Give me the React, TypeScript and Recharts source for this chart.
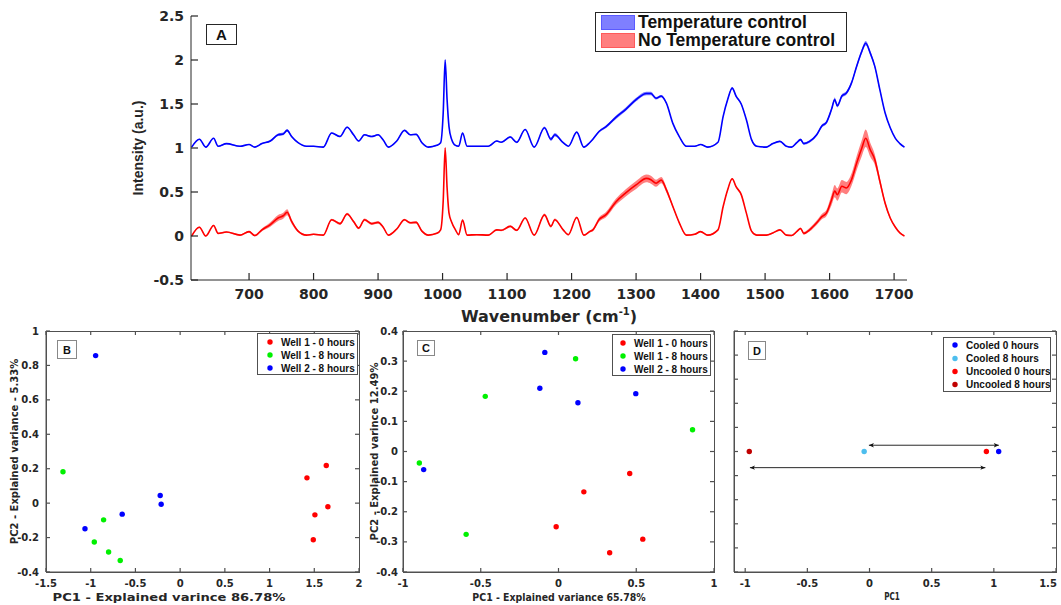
import React from 'react';
import {
  ComposedChart,
  Area,
  Line,
  XAxis,
  YAxis,
  ScatterChart,
  Scatter,
  ReferenceLine,
} from 'recharts';

// ---- Panel A: mean Raman spectra (+/- band) ----
const WAVENUMBER = [
  611, 623, 633, 645, 652, 665, 686, 700, 709, 720,
  733, 745, 753, 759, 766, 776, 789, 800, 815, 828,
  841, 852, 862, 870, 879, 890, 900, 908, 916, 929,
  941, 950, 959, 968, 978, 991, 997, 1001, 1004, 1007,
  1010, 1014, 1020, 1025, 1031, 1038, 1053, 1071, 1084, 1091,
  1105, 1115, 1128, 1142, 1158, 1168, 1174, 1187, 1195, 1208,
  1219, 1228, 1233, 1243, 1253, 1269, 1284, 1300, 1316, 1323,
  1331, 1339, 1347, 1357, 1367, 1378, 1391, 1400, 1411, 1427,
  1435, 1442, 1449, 1455, 1463, 1471, 1479, 1487, 1502, 1512,
  1523, 1533, 1541, 1549, 1555, 1560, 1569, 1580, 1588, 1595,
  1603, 1608, 1612, 1619, 1626, 1634, 1642, 1650, 1656, 1663,
  1670, 1678, 1686, 1694, 1702, 1709, 1716,
];

const TEMP_CONTROL = [
  1.01, 1.10, 1.01, 1.11, 1.02, 1.05, 1.02, 1.04, 1.01, 1.05,
  1.08, 1.15, 1.16, 1.20, 1.13, 1.06, 1.02, 1.02, 1.01, 1.17,
  1.13, 1.235, 1.15, 1.08, 1.15, 1.13, 1.15, 1.09, 1.01, 1.08,
  1.20, 1.15, 1.155, 1.06, 1.01, 1.03, 1.06, 1.40, 2.00, 1.55,
  1.24, 1.10, 1.03, 1.02, 1.17, 1.02, 1.02, 1.02, 1.08, 1.065,
  1.125, 1.065, 1.21, 1.01, 1.23, 1.10, 1.15, 1.06, 1.02, 1.18,
  1.01, 1.06, 1.10, 1.19, 1.24, 1.35, 1.44, 1.55, 1.62, 1.62,
  1.565, 1.59, 1.51, 1.28, 1.13, 1.02, 1.02, 1.04, 1.01, 1.065,
  1.36, 1.55, 1.68, 1.59, 1.50, 1.32, 1.095, 1.02, 1.01, 1.05,
  1.075, 1.02, 1.01, 1.06, 1.095, 1.05, 1.075, 1.15, 1.25, 1.29,
  1.44, 1.55, 1.48, 1.59, 1.625, 1.74, 1.93, 2.10, 2.19, 2.08,
  1.93, 1.66, 1.40, 1.23, 1.11, 1.05, 1.01,
];

const TEMP_CONTROL_SD = [
  0.006, 0.006, 0.006, 0.006, 0.006, 0.006, 0.006, 0.006, 0.006, 0.006,
  0.01, 0.015, 0.015, 0.015, 0.01, 0.006, 0.006, 0.006, 0.006, 0.008,
  0.008, 0.008, 0.008, 0.008, 0.008, 0.008, 0.008, 0.008, 0.006, 0.008,
  0.008, 0.008, 0.008, 0.008, 0.006, 0.006, 0.006, 0.008, 0.008, 0.008,
  0.008, 0.008, 0.006, 0.006, 0.008, 0.006, 0.006, 0.006, 0.008, 0.008,
  0.01, 0.01, 0.008, 0.006, 0.015, 0.02, 0.02, 0.01, 0.006, 0.008,
  0.006, 0.008, 0.01, 0.012, 0.015, 0.02, 0.02, 0.02, 0.02, 0.02,
  0.015, 0.012, 0.01, 0.008, 0.006, 0.006, 0.006, 0.006, 0.006, 0.008,
  0.01, 0.012, 0.012, 0.012, 0.01, 0.008, 0.006, 0.006, 0.006, 0.006,
  0.006, 0.006, 0.006, 0.012, 0.012, 0.012, 0.015, 0.015, 0.018, 0.018,
  0.02, 0.025, 0.02, 0.02, 0.02, 0.02, 0.022, 0.025, 0.025, 0.025,
  0.02, 0.015, 0.01, 0.008, 0.006, 0.006, 0.006,
];

const NO_TEMP_CONTROL = [
  0.00, 0.10, 0.00, 0.12, 0.03, 0.045, 0.01, 0.05, 0.005, 0.07,
  0.13, 0.205, 0.23, 0.27, 0.165, 0.055, 0.01, 0.02, 0.01, 0.185,
  0.14, 0.25, 0.165, 0.09, 0.185, 0.14, 0.155, 0.10, 0.01, 0.08,
  0.185, 0.15, 0.155, 0.055, 0.01, 0.03, 0.07, 0.40, 1.00, 0.55,
  0.26, 0.16, 0.07, 0.015, 0.18, 0.01, 0.015, 0.01, 0.07, 0.065,
  0.11, 0.065, 0.205, 0.01, 0.24, 0.11, 0.185, 0.07, 0.015, 0.21,
  0.01, 0.05, 0.07, 0.19, 0.24, 0.39, 0.49, 0.58, 0.655, 0.64,
  0.60, 0.635, 0.525, 0.335, 0.15, 0.01, 0.02, 0.05, 0.01, 0.07,
  0.335, 0.525, 0.65, 0.56, 0.47, 0.26, 0.055, 0.01, 0.01, 0.035,
  0.07, 0.01, 0.005, 0.05, 0.085, 0.03, 0.07, 0.15, 0.22, 0.26,
  0.41, 0.51, 0.47, 0.565, 0.545, 0.64, 0.83, 1.00, 1.11, 0.98,
  0.87, 0.62, 0.375, 0.205, 0.10, 0.035, 0.00,
];

const NO_TEMP_CONTROL_SD = [
  0.008, 0.008, 0.008, 0.008, 0.008, 0.008, 0.008, 0.01, 0.01, 0.015,
  0.025, 0.035, 0.035, 0.035, 0.025, 0.012, 0.008, 0.008, 0.008, 0.012,
  0.015, 0.015, 0.015, 0.012, 0.015, 0.015, 0.012, 0.01, 0.008, 0.01,
  0.012, 0.012, 0.012, 0.01, 0.008, 0.008, 0.01, 0.01, 0.012, 0.01,
  0.01, 0.01, 0.008, 0.008, 0.01, 0.008, 0.008, 0.008, 0.01, 0.01,
  0.012, 0.01, 0.012, 0.008, 0.015, 0.015, 0.015, 0.01, 0.008, 0.012,
  0.008, 0.01, 0.015, 0.025, 0.03, 0.035, 0.04, 0.045, 0.045, 0.045,
  0.04, 0.035, 0.03, 0.015, 0.01, 0.008, 0.008, 0.008, 0.008, 0.008,
  0.01, 0.01, 0.01, 0.01, 0.01, 0.008, 0.008, 0.008, 0.008, 0.008,
  0.008, 0.008, 0.008, 0.01, 0.012, 0.015, 0.02, 0.025, 0.03, 0.035,
  0.06, 0.07, 0.07, 0.07, 0.07, 0.07, 0.08, 0.09, 0.1, 0.08,
  0.06, 0.04, 0.025, 0.015, 0.01, 0.008, 0.006,
];

const SPECTRA_NAMES = ['Temperature control', 'No Temperature control'];
const WAVENUMBER_TICKS = [700, 800, 900, 1000, 1100, 1200, 1300, 1400, 1500, 1600, 1700];
const INTENSITY_TICKS = [-0.5, 0, 0.5, 1, 1.5, 2, 2.5];

// ---- Panel B: PCA, all wells ----
const B_WELL1_0H: [number, number][] = [[1.634, 0.219], [1.418, 0.147], [1.652, -0.021], [1.507, -0.068], [1.489, -0.213]];
const B_WELL1_8H: [number, number][] = [[-1.31, 0.182], [-0.856, -0.097], [-0.96, -0.226], [-0.8, -0.284], [-0.67, -0.333]];
const B_WELL2_8H: [number, number][] = [[-0.945, 0.857], [-0.223, 0.044], [-0.212, -0.006], [-0.648, -0.064], [-1.064, -0.149]];
const B_X_TICKS = [-1.5, -1, -0.5, 0, 0.5, 1, 1.5, 2];
const B_Y_TICKS = [-0.4, -0.2, 0, 0.2, 0.4, 0.6, 0.8, 1];

// ---- Panel C ----
const C_WELL1_0H: [number, number][] = [[0.458, -0.073], [0.163, -0.134], [-0.015, -0.25], [0.542, -0.291], [0.329, -0.336]];
const C_WELL1_8H: [number, number][] = [[0.11, 0.308], [-0.471, 0.183], [0.862, 0.072], [-0.895, -0.038], [-0.594, -0.275]];
const C_WELL2_8H: [number, number][] = [[-0.088, 0.329], [-0.12, 0.21], [0.125, 0.162], [0.497, 0.192], [-0.867, -0.06]];
const C_X_TICKS = [-1, -0.5, 0, 0.5, 1];
const C_Y_TICKS = [-0.4, -0.3, -0.2, -0.1, 0, 0.1, 0.2, 0.3, 0.4];

// ---- Panel D: cooled vs uncooled along PC1 ----
const D_COOLED_0H: [number, number][] = [[1.039, 0]];
const D_COOLED_8H: [number, number][] = [[-0.043, 0]];
const D_UNCOOLED_0H: [number, number][] = [[0.94, 0]];
const D_UNCOOLED_8H: [number, number][] = [[-0.967, 0]];
const D_ARROWS: [number, number, number][] = [[-0.005, 1.04, 0.052], [-0.962, 0.932, -0.134]];
const D_X_TICKS = [-1, -0.5, 0, 0.5, 1, 1.5];
const D_Y_TICKS = [-1, -0.8, -0.6, -0.4, -0.2, 0, 0.2, 0.4, 0.6, 0.8, 1];

const WELL_NAMES = ['Well 1 - 0 hours', 'Well 1 - 8 hours', 'Well 2 - 8 hours'];
const COOLING_NAMES = ['Cooled 0 hours', 'Cooled 8 hours', 'Uncooled 0 hours', 'Uncooled 8 hours'];

const RED = '#ff0000';
const GREEN = '#00f000';
const BLUE = '#0000ff';
const LIGHT_BLUE = '#4dbeee';
const DARK_RED = '#c00000';
const AXIS = '#262626';
const BOX = '#505050';
const DV = "'DejaVu Sans', sans-serif";
const LS = "'Liberation Sans', Arial, sans-serif";

const PCA_H = 285;
const PCA_TOP = 11;
const PCA_BOTTOM = 252;

interface TickStyle {
  side: 'bottom' | 'left'; gap: number; len: number; labels: boolean;
  font?: string; size?: number; weight?: number | string; stroke: string;
  maxX?: number; mirror?: number; // mirror: distance to the opposite box edge
}

// matlab-style ticks pointing into the plot (optionally mirrored on the far edge)
function inwardTick(s: TickStyle) {
  return function Tick(props: any) {
    const { x, y, payload } = props;
    const txt = { fontFamily: s.font, fontSize: s.size, fontWeight: s.weight, fill: AXIS };
    if (s.side === 'bottom') {
      const ay = y - s.gap;
      const lx = s.maxX !== undefined ? Math.min(x, s.maxX) : x;
      return (
        <g>
          <line x1={x} x2={x} y1={ay} y2={ay - s.len} stroke={s.stroke} strokeWidth={1.2} />
          {s.mirror ? <line x1={x} x2={x} y1={ay - s.mirror} y2={ay - s.mirror + s.len} stroke={s.stroke} strokeWidth={1.2} /> : null}
          {s.labels ? <text x={lx} y={y} dy="0.36em" textAnchor="middle" {...txt}>{String(payload.value)}</text> : null}
        </g>
      );
    }
    const ax = x + s.gap;
    return (
      <g>
        <line x1={ax} x2={ax + s.len} y1={y} y2={y} stroke={s.stroke} strokeWidth={1.2} />
        {s.mirror ? <line x1={ax + s.mirror} x2={ax + s.mirror - s.len} y1={y} y2={y} stroke={s.stroke} strokeWidth={1.2} /> : null}
        {s.labels ? <text x={x} y={y} dy="0.36em" textAnchor="end" {...txt}>{String(payload.value)}</text> : null}
      </g>
    );
  };
}

function SText({ x, y, sx = 1, rotate = 0, size, weight = 'bold', family = DV, children }: any) {
  return (
    <text
      transform={`translate(${x},${y}) rotate(${rotate}) scale(${sx},1)`}
      textAnchor="middle"
      fontFamily={family}
      fontSize={size}
      fontWeight={weight}
      fill={AXIS}
    >
      {children}
    </text>
  );
}

function Dot(color: string) {
  return (p: any) => <circle cx={p.cx} cy={p.cy} r={2.7} fill={color} />;
}

function DoubleArrow(p: any) {
  const { x1, y1, x2, y2 } = p;
  const d = x2 > x1 ? 1 : -1;
  return (
    <g>
      <line x1={x1} y1={y1} x2={x2} y2={y2} stroke="#111" strokeWidth={0.9} />
      <path d={`M${x1},${y1} l${d * 5},-2.2 l-1.2,2.2 l1.2,2.2 Z`} fill="#111" />
      <path d={`M${x2},${y2} l${-d * 5},-2.2 l1.2,2.2 l-1.2,2.2 Z`} fill="#111" />
    </g>
  );
}

const toPts = (arr: [number, number][]) => arr.map(([x, y]) => ({ x, y }));

function LetterBox({ left, top, width, height, size, text, border }: any) {
  return (
    <div
      style={{
        position: 'absolute', left, top, width, height, boxSizing: 'border-box',
        border, background: '#fff', fontFamily: LS, fontWeight: 'bold', fontSize: size,
        color: '#111', display: 'flex', alignItems: 'center', justifyContent: 'center',
      }}
    >
      {text}
    </div>
  );
}

// outline of a PCA axes box (top / right edges are not drawn by the axes)
function Frame({ left, top, width, height }: any) {
  return (
    <div
      style={{
        position: 'absolute', left, top, width, height, boxSizing: 'border-box',
        border: `1px solid ${BOX}`, pointerEvents: 'none',
      }}
    />
  );
}

function PcaLegend({ left, top, width, height, names, colors, markerX, textX, rows }: any) {
  return (
    <div style={{ position: 'absolute', left, top, width, height, boxSizing: 'border-box', border: `1px solid ${BOX}`, background: '#fff' }}>
      <svg width={width - 2} height={height - 2} style={{ display: 'block' }}>
        {names.map((n: string, i: number) => (
          <g key={n}>
            <circle cx={markerX} cy={rows[i]} r={2.7} fill={colors[i]} />
            <text x={textX} y={rows[i]} dy="0.36em" fontFamily={LS} fontWeight="bold" fontSize={10} fill="#111">{n}</text>
          </g>
        ))}
      </svg>
    </div>
  );
}

interface PcaProps {
  width: number;
  yAxisWidth: number;
  rightMargin: number;
  xDomain: [number, number];
  yDomain: [number, number];
  xTicks: number[];
  yTicks: number[];
  yLabels: boolean;
  yGap: number;
  maxLabelX?: number;
  series: { name: string; color: string; pts: [number, number][] }[];
  xTitle: React.ReactNode;
  yTitle?: React.ReactNode;
  children?: React.ReactNode;
}

function PcaChart(p: PcaProps) {
  const left = p.yAxisWidth;
  const right = p.width - p.rightMargin;
  const common = { stroke: BOX, len: 4 };
  return (
    <ScatterChart width={p.width} height={PCA_H} margin={{ top: PCA_TOP, right: p.rightMargin, bottom: 0, left: 0 }}>
      <XAxis
        type="number" dataKey="x" domain={p.xDomain} ticks={p.xTicks} interval={0} allowDataOverflow
        height={PCA_H - PCA_BOTTOM} tickSize={0} tickMargin={11} tickLine={false} axisLine={{ stroke: BOX }}
        tick={inwardTick({ ...common, side: 'bottom', gap: 11, labels: true, font: DV, size: 10, weight: 'bold', maxX: p.maxLabelX, mirror: PCA_BOTTOM - PCA_TOP })}
        label={{ content: () => p.xTitle }}
      />
      <YAxis
        type="number" dataKey="y" domain={p.yDomain} ticks={p.yTicks} interval={0} allowDataOverflow
        width={p.yAxisWidth} tickSize={0} tickMargin={p.yGap} tickLine={false} axisLine={{ stroke: BOX }}
        tick={inwardTick({ ...common, side: 'left', gap: p.yGap, labels: p.yLabels, font: DV, size: 10, weight: 'bold', mirror: right - left })}
        label={p.yTitle ? { content: () => p.yTitle } : undefined}
      />
      {p.children}
      {p.series.map((s) => (
        <Scatter key={s.name} name={s.name} data={toPts(s.pts)} shape={Dot(s.color)} isAnimationActive={false} />
      ))}
    </ScatterChart>
  );
}

export default function App() {
  const spectra = WAVENUMBER.map((w, i) => ({
    w,
    tc: TEMP_CONTROL[i],
    ntc: NO_TEMP_CONTROL[i],
    tcBand: [TEMP_CONTROL[i] - TEMP_CONTROL_SD[i], TEMP_CONTROL[i] + TEMP_CONTROL_SD[i]],
    ntcBand: [NO_TEMP_CONTROL[i] - NO_TEMP_CONTROL_SD[i], NO_TEMP_CONTROL[i] + NO_TEMP_CONTROL_SD[i]],
  }));

  const aTickStyle = { stroke: AXIS, len: 7, labels: true, font: DV, size: 14, weight: 'bold' };

  return (
    <div style={{ position: 'absolute', left: 0, top: 0, width: 1061, height: 605, background: '#fff', overflow: 'hidden' }}>
      {/* A */}
      <div style={{ position: 'absolute', left: 0, top: 0 }}>
        <ComposedChart width={1061} height={330} data={spectra} margin={{ top: 16, right: 154, bottom: 0, left: 131 }}>
          <XAxis
            dataKey="w" type="number" domain={[610, 1720]} ticks={WAVENUMBER_TICKS} interval={0} allowDataOverflow
            height={50} tickSize={0} tickMargin={14} tickLine={false} axisLine={{ stroke: AXIS }}
            tick={inwardTick({ ...aTickStyle, side: 'bottom', gap: 14 })}
            label={{
              content: () => (
                <SText x={549} y={322} size={16}>
                  Wavenumber (cm<tspan dy={-7} fontSize={10}>-1</tspan><tspan dy={7}>)</tspan>
                </SText>
              ),
            }}
          />
          <YAxis
            type="number" domain={[-0.5, 2.5]} ticks={INTENSITY_TICKS} interval={0} allowDataOverflow
            width={60} tickSize={0} tickMargin={7} tickLine={false} axisLine={{ stroke: AXIS }}
            tick={inwardTick({ ...aTickStyle, side: 'left', gap: 7 })}
            label={{
              content: () => (
                <SText x={143} y={148} rotate={-90} size={14} family={LS}>Intensity (a.u.)</SText>
              ),
            }}
          />
          <Area dataKey="tcBand" type="monotone" stroke="none" fill={BLUE} fillOpacity={0.5} isAnimationActive={false} activeDot={false} />
          <Area dataKey="ntcBand" type="monotone" stroke="none" fill={RED} fillOpacity={0.5} isAnimationActive={false} activeDot={false} />
          <Line dataKey="tc" name={SPECTRA_NAMES[0]} type="monotone" stroke={BLUE} strokeWidth={1.6} dot={false} activeDot={false} isAnimationActive={false} />
          <Line dataKey="ntc" name={SPECTRA_NAMES[1]} type="monotone" stroke={RED} strokeWidth={1.6} dot={false} activeDot={false} isAnimationActive={false} />
        </ComposedChart>
      </div>
      <LetterBox left={206} top={24} width={31} height={21} size={15} text="A" border={`1.5px solid ${AXIS}`} />
      <div style={{ position: 'absolute', left: 595, top: 12, width: 252, height: 40, boxSizing: 'border-box', border: `1px solid ${AXIS}`, background: '#fff' }}>
        {SPECTRA_NAMES.map((n, i) => (
          <div key={n}>
            <div style={{ position: 'absolute', left: 5, top: 2 + i * 18, width: 34, height: 15, boxSizing: 'border-box', background: i === 0 ? '#7f7fff' : '#ff7f7f', border: `1px solid ${i === 0 ? '#5a5aff' : '#ff5a5a'}` }} />
            <div style={{ position: 'absolute', left: 42, top: i * 18, height: 19, lineHeight: '19px', fontFamily: LS, fontWeight: 'bold', fontSize: 17.5, color: '#111', whiteSpace: 'nowrap' }}>{n}</div>
          </div>
        ))}
      </div>

      {/* B */}
      <div style={{ position: 'absolute', left: 0, top: 320 }}>
        <PcaChart
          width={370} yAxisWidth={46} rightMargin={11}
          xDomain={[-1.5, 2]} yDomain={[-0.4, 1]} xTicks={B_X_TICKS} yTicks={B_Y_TICKS} yLabels yGap={7}
          series={[
            { name: WELL_NAMES[0], color: RED, pts: B_WELL1_0H },
            { name: WELL_NAMES[1], color: GREEN, pts: B_WELL1_8H },
            { name: WELL_NAMES[2], color: BLUE, pts: B_WELL2_8H },
          ]}
          xTitle={<SText x={169} y={281} sx={1.31} size={10}>PC1 - Explained varince 86.78%</SText>}
          yTitle={<SText x={14} y={131.5} rotate={-90} size={10}><tspan dy="0.36em">PC2 - Explained variance - 5.33%</tspan></SText>}
        />
      </div>
      <Frame left={46} top={331} width={314} height={242} />
      <LetterBox left={57} top={340} width={20} height={19} size={11} text="B" border="1px solid #888" />
      <PcaLegend left={257} top={333} width={101} height={42} names={WELL_NAMES} colors={[RED, GREEN, BLUE]} markerX={12} textX={23} rows={[8, 21, 34]} />

      {/* C */}
      <div style={{ position: 'absolute', left: 340, top: 320 }}>
        <PcaChart
          width={380} yAxisWidth={63} rightMargin={6}
          xDomain={[-1, 1]} yDomain={[-0.4, 0.4]} xTicks={C_X_TICKS} yTicks={C_Y_TICKS} yLabels yGap={5}
          series={[
            { name: WELL_NAMES[0], color: RED, pts: C_WELL1_0H },
            { name: WELL_NAMES[1], color: GREEN, pts: C_WELL1_8H },
            { name: WELL_NAMES[2], color: BLUE, pts: C_WELL2_8H },
          ]}
          xTitle={<SText x={219} y={280.5} sx={0.94} size={10}>PC1 - Explained variance 65.78%</SText>}
          yTitle={<SText x={34} y={131.5} rotate={-90} size={10}><tspan dy="0.36em">PC2 - Explained varince 12.49%</tspan></SText>}
        />
      </div>
      <Frame left={403} top={331} width={312} height={242} />
      <LetterBox left={417} top={340} width={18} height={16} size={11} text="C" border="1px solid #888" />
      <PcaLegend left={612} top={334} width={99} height={42} names={WELL_NAMES} colors={[RED, GREEN, BLUE]} markerX={10} textX={21} rows={[8, 21, 34]} />

      {/* D */}
      <div style={{ position: 'absolute', left: 700, top: 320 }}>
        <PcaChart
          width={361} yAxisWidth={34} rightMargin={5}
          xDomain={[-1.09, 1.5]} yDomain={[-1, 1]} xTicks={D_X_TICKS} yTicks={D_Y_TICKS} yLabels={false} yGap={0}
          maxLabelX={348}
          series={[
            { name: COOLING_NAMES[0], color: BLUE, pts: D_COOLED_0H },
            { name: COOLING_NAMES[1], color: LIGHT_BLUE, pts: D_COOLED_8H },
            { name: COOLING_NAMES[2], color: RED, pts: D_UNCOOLED_0H },
            { name: COOLING_NAMES[3], color: DARK_RED, pts: D_UNCOOLED_8H },
          ]}
          xTitle={<SText x={192} y={280} sx={0.72} size={10}>PC1</SText>}
        >
          {D_ARROWS.map(([x1, x2, y]) => (
            <ReferenceLine key={`${x1}-${y}`} segment={[{ x: x1, y }, { x: x2, y }]} shape={DoubleArrow} />
          ))}
        </PcaChart>
      </div>
      <Frame left={734} top={331} width={323} height={242} />
      <LetterBox left={748} top={341} width={18} height={19} size={11} text="D" border="1px solid #888" />
      <PcaLegend left={943} top={337} width={108} height={55} names={COOLING_NAMES} colors={[BLUE, LIGHT_BLUE, RED, DARK_RED]} markerX={11} textX={22} rows={[7, 20.5, 33.5, 46.5]} />
    </div>
  );
}
